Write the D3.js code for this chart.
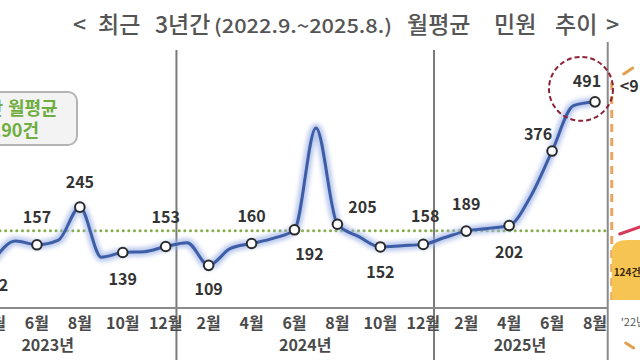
<!DOCTYPE html>
<html>
<head>
<meta charset="utf-8">
<script src="https://cdn.jsdelivr.net/npm/d3@7"></script>
<style>
  body { margin: 0; background: #fff; }
  svg { display: block; font-family: "Noto Sans CJK KR", "Noto Sans", sans-serif; }
</style>
</head>
<body>
<svg id="chart" width="640" height="360"></svg>
<script>
// monthly complaint counts, Apr 2023 .. Aug 2025 (left of Apr is cropped off in the source)
const months = [
    '2023.4', '2023.5', '2023.6', '2023.7', '2023.8', '2023.9', '2023.10', '2023.11', '2023.12',
    '2024.1', '2024.2', '2024.3', '2024.4', '2024.5', '2024.6', '2024.7', '2024.8', '2024.9',
    '2024.10', '2024.11', '2024.12',
    '2025.1', '2025.2', '2025.3', '2025.4', '2025.5', '2025.6', '2025.7', '2025.8'
];
const counts = [
    122, 166, 157, 168, 245, 128, 139, 141, 153,
    162, 109, 148, 160, 172, 192, 430, 205, 176,
    152, 155, 158,
    174, 189, 195, 202, 270, 376, 482, 491
];
// months that get a marker + value label, with their axis tick text
const markedMonths = ['2023.4', '2023.6', '2023.8', '2023.10', '2023.12', '2024.2', '2024.4', '2024.6',
    '2024.8', '2024.10', '2024.12', '2025.2', '2025.4', '2025.6', '2025.8'];
const tickLabels = ['4월', '6월', '8월', '10월', '12월', '2월', '4월', '6월', '8월', '10월', '12월', '2월', '4월', '6월', '8월'];
const years = [2023, 2024, 2025];
const average = 190;

const titleWords = ['<', '최근', '3년간', '(2022.9.~2025.8.)', '월평균', '민원', '추이', '>'];
const titleWordX = [73, 98, 155, 214, 407, 494, 555, 606];

// label offsets (dx, dy) from each marker
const labelOffset = [
    [0, 26], [0, -27], [0, -25], [0, 27], [0, -29], [0, 24], [0, -27], [15, 25],
    [25, -17], [0, 25], [2, -28], [0, -27], [0, 27], [-14, -17], [-8, -20]
];

const svg = d3.select('#chart');
const idx = m => months.indexOf(m);
// month index relative to the first month (Apr 2023)
const monthIndex = (y, m) => (y - 2023) * 12 + (m - 4);

const x = d3.scaleLinear().domain([0, months.length - 1]).range([-6, 595]);
const y = d3.scaleLinear().domain([0, 500]).range([312, 98]);

const axisY = 308;
const edgeX = x(months.length - 0.5) + 2;

// glow filter for the line
const defs = svg.append('defs');
const f = defs.append('filter').attr('id', 'glow').attr('x', '-10%').attr('y', '-20%')
    .attr('width', '120%').attr('height', '140%');
f.append('feGaussianBlur').attr('stdDeviation', 2.2);

// title, word by word
svg.append('g').selectAll('text')
    .data(titleWords)
    .enter().append('text')
    .attr('x', (d, i) => titleWordX[i])
    .attr('y', 33)
    .attr('fill', '#555')
    .attr('font-size', d => d.startsWith('(') ? 19 : 23)
    .attr('font-weight', 500)
    .attr('textLength', d => d.startsWith('(') ? 178 : null)
    .attr('lengthAdjust', 'spacingAndGlyphs')
    .text(d => d);

// year separators
years.slice(1).forEach(yr => {
    const sx = x(monthIndex(yr, 1) - 0.5);
    svg.append('line')
        .attr('x1', sx).attr('x2', sx).attr('y1', 50).attr('y2', 360)
        .attr('stroke', '#7a7a7a').attr('stroke-width', 2);
});
svg.append('line')
    .attr('x1', edgeX).attr('x2', edgeX).attr('y1', 42).attr('y2', 360)
    .attr('stroke', '#8a8a8a').attr('stroke-width', 2);

// neighbouring panel fragments on the right edge
svg.append('line')
    .attr('x1', edgeX + 4).attr('x2', edgeX + 4).attr('y1', 82).attr('y2', 305)
    .attr('stroke', '#e9a561').attr('stroke-width', 3).attr('stroke-dasharray', '8,6');
svg.append('path')
    .attr('d', `M${edgeX + 4},300 V252 Q${edgeX + 4},240 ${edgeX + 20},240 H640 V300 Z`)
    .attr('fill', '#f6c452');
svg.append('text')
    .attr('x', edgeX + 6).attr('y', 276)
    .attr('font-size', 10).attr('font-weight', 700).attr('fill', '#3a2a10')
    .text('124건');
svg.append('line')
    .attr('x1', edgeX + 12).attr('y1', 234).attr('x2', 640).attr('y2', 227)
    .attr('stroke', '#d8385a').attr('stroke-width', 3).attr('stroke-linecap', 'round');
svg.append('text')
    .attr('x', edgeX + 12).attr('y', 92)
    .attr('font-size', 16).attr('font-weight', 700).attr('fill', '#333')
    .text('<9');
svg.append('text')
    .attr('x', edgeX + 13).attr('y', 326)
    .attr('font-size', 11).attr('fill', '#555')
    .text("'22년");
svg.append('path')
    .attr('d', `M${edgeX + 16},74 L${edgeX + 25},68 M${edgeX + 18},343 L${edgeX + 26},348`)
    .attr('stroke', '#e0a050').attr('stroke-width', 3).attr('stroke-linecap', 'round');

// x axis line
svg.append('line')
    .attr('x1', 0).attr('x2', edgeX).attr('y1', axisY).attr('y2', axisY)
    .attr('stroke', '#8a8a8a').attr('stroke-width', 2);

// average dotted line
svg.append('line')
    .attr('x1', 0).attr('x2', edgeX).attr('y1', y(average)).attr('y2', y(average))
    .attr('stroke', '#86b04a').attr('stroke-width', 3)
    .attr('stroke-dasharray', '0.1,5.5').attr('stroke-linecap', 'round');

// legend box (cropped on the left)
svg.append('rect')
    .attr('x', -70).attr('y', 92).attr('width', 147).attr('height', 53).attr('rx', 9)
    .attr('fill', '#f3f3f3').attr('stroke', '#b4b4b4').attr('stroke-width', 2);
const legendText = svg.append('g')
    .attr('font-size', 18).attr('font-weight', 700).attr('fill', '#6fae3e');
legendText.append('text').attr('x', 3).attr('y', 115).attr('text-anchor', 'end').text('3년간');
legendText.append('text').attr('x', 8).attr('y', 115).text('월평균');
legendText.append('text').attr('x', 39).attr('y', 137).attr('text-anchor', 'end').text('190건');

// line
const line = d3.line()
    .x((d, i) => x(i))
    .y(d => y(d))
    .curve(d3.curveMonotoneX);

svg.append('path')
    .datum(counts)
    .attr('d', line)
    .attr('fill', 'none')
    .attr('stroke', '#9bb0e4')
    .attr('stroke-width', 9)
    .attr('stroke-opacity', 0.7)
    .attr('filter', 'url(#glow)');
svg.append('path')
    .datum(counts)
    .attr('d', line)
    .attr('fill', 'none')
    .attr('stroke', '#3d5da6')
    .attr('stroke-width', 3);

// highlight ring round the last point
const last = months.length - 1;
svg.append('circle')
    .attr('cx', x(last) - 14).attr('cy', y(counts[last]) - 13).attr('r', 32)
    .attr('fill', 'none').attr('stroke', '#8c2236').attr('stroke-width', 2)
    .attr('stroke-dasharray', '5,3');

// markers and value labels
const marks = markedMonths.map((m, k) => ({ i: idx(m), v: counts[idx(m)], off: labelOffset[k], tick: tickLabels[k] }));

svg.append('g').selectAll('circle')
    .data(marks)
    .enter().append('circle')
    .attr('cx', d => x(d.i))
    .attr('cy', d => y(d.v))
    .attr('r', 4.8)
    .attr('fill', '#fff')
    .attr('stroke', '#2b2b2b')
    .attr('stroke-width', 2);

svg.append('g').selectAll('text')
    .data(marks)
    .enter().append('text')
    .attr('x', d => x(d.i) + d.off[0])
    .attr('y', d => y(d.v) + d.off[1])
    .attr('dy', '0.35em')
    .attr('text-anchor', 'middle')
    .attr('font-size', 16)
    .attr('font-weight', 700)
    .attr('fill', '#333')
    .text(d => d.v);

// month ticks
svg.append('g').selectAll('text')
    .data(marks)
    .enter().append('text')
    .attr('x', d => x(d.i))
    .attr('y', 329)
    .attr('text-anchor', 'middle')
    .attr('font-size', 16)
    .attr('font-weight', 700)
    .attr('fill', '#4a4a4a')
    .text(d => d.tick);

// year labels, centred on each year's span
svg.append('g').selectAll('text')
    .data(years)
    .enter().append('text')
    .attr('x', yr => {
        const a = monthIndex(yr, 1) - 0.5;
        const b = Math.min(monthIndex(yr, 12) + 0.5, months.length - 0.5);
        return x((a + b) / 2);
    })
    .attr('y', 351)
    .attr('text-anchor', 'middle')
    .attr('font-size', 16)
    .attr('font-weight', 700)
    .attr('fill', '#4a4a4a')
    .text(yr => yr + '년');
</script>
</body>
</html>
